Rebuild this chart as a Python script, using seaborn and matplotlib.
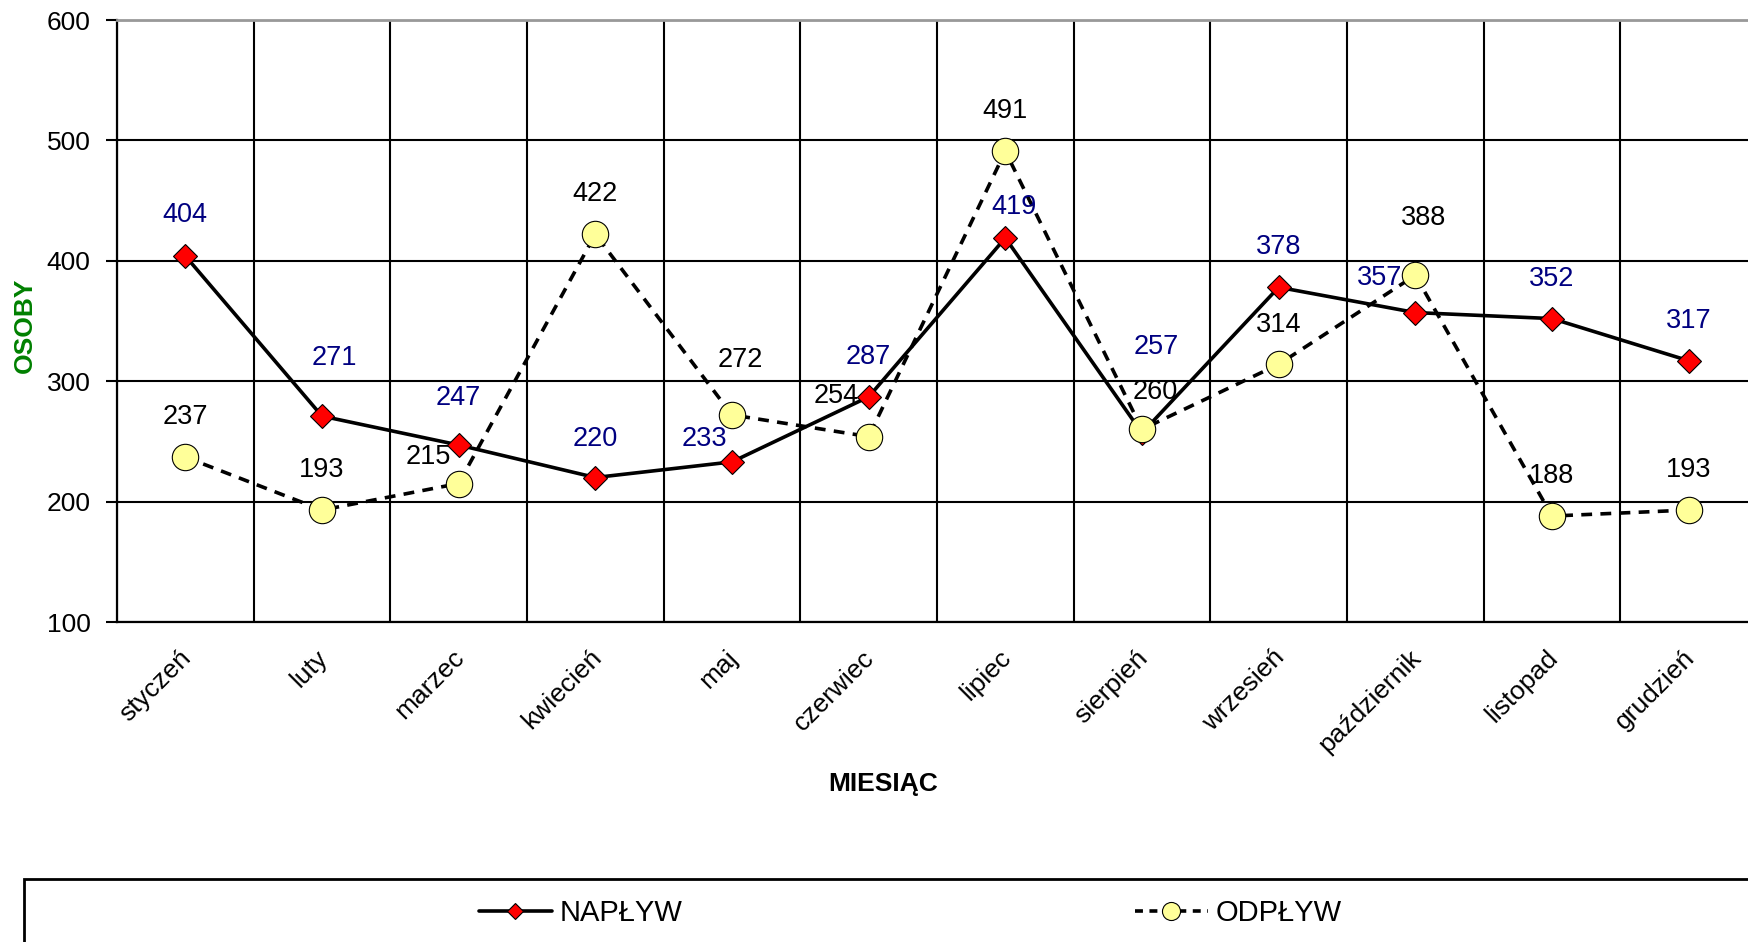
import numpy as np
import pandas as pd
import matplotlib
matplotlib.use("Agg")
import matplotlib.pyplot as plt
from matplotlib.lines import Line2D
from matplotlib.patches import Rectangle
import seaborn as sns

months = ["styczeń", "luty", "marzec", "kwiecień", "maj", "czerwiec", "lipiec",
          "sierpień", "wrzesień", "październik", "listopad", "grudzień"]
naplyw = [404, 271, 247, 220, 233, 287, 419, 257, 378, 357, 352, 317]
odplyw = [237, 193, 215, 422, 272, 254, 491, 260, 314, 388, 188, 193]
y_ticks = [100, 200, 300, 400, 500, 600]

# label offsets in pixels (dx, dy) -- styling only
naplyw_off = [(0, 41), (12, 58), (0, 47), (0, 39), (-28, 23), (0, 40),
              (9, 31), (14, 86), (0, 40), (-36, 35), (0, 40), (0, 40)]
odplyw_off = [(0, 40), (0, 40), (-30, 27), (0, 40), (8, 55), (-32, 41),
              (0, 40), (13, 37), (0, 39), (8, 57), (0, 40), (0, 40)]

sns.set_style("white")
plt.rcParams["font.family"] = ["Liberation Sans", "DejaVu Sans"]
plt.rcParams["text.color"] = "black"
plt.rcParams["xtick.color"] = "black"
plt.rcParams["ytick.color"] = "black"
plt.rcParams["axes.labelcolor"] = "black"
FS = 19
FS_LAB = 19.5
FS_LEG = 21

df = pd.DataFrame({"idx": np.arange(len(months)), "month": months,
                   "NAPŁYW": naplyw, "ODPŁYW": odplyw})

fig = plt.figure(figsize=(17.48, 9.42), dpi=100)
W, H = 1748, 942
ax = fig.add_axes([117 / W, 1 - 622 / H, (1757 - 117) / W, (622 - 20) / H])

sns.lineplot(data=df, x="idx", y="NAPŁYW", ax=ax, color="black", lw=2.6,
             marker="D", markersize=12.5, markerfacecolor="#FF0000",
             markeredgecolor="black", markeredgewidth=0.8, zorder=4)
sns.lineplot(data=df, x="idx", y="ODPŁYW", ax=ax, color="black", lw=2.6,
             linestyle=(0, (3, 2.3)), marker="o", markersize=19,
             markerfacecolor="#FFFF99", markeredgecolor="black",
             markeredgewidth=0.8, zorder=5)

ax.set_xlim(-0.5, len(months) - 0.5)
ax.set_ylim(y_ticks[0], y_ticks[-1])
ax.set_yticks(y_ticks)
ax.set_yticklabels([str(v) for v in y_ticks], fontsize=FS, color="black")
ax.set_xticks(np.arange(len(months)))
ax.set_xticklabels([""] * len(months))
ax.set_xticks(np.arange(len(months) + 1) - 0.5, minor=True)
ax.tick_params(axis="x", which="major", length=0)
ax.tick_params(axis="x", which="minor", length=8, width=1.5, color="black", direction="out")
ax.tick_params(axis="y", which="major", length=8, width=1.5, color="black",
               direction="out", pad=11, left=True)
ax.set_xlabel("")
ax.set_ylabel("")

ax.grid(False)
ax.grid(True, which="minor", axis="x", color="black", lw=1.5)
ax.grid(True, which="major", axis="y", color="black", lw=1.5)
ax.set_axisbelow(True)

for s in ["left", "bottom"]:
    ax.spines[s].set_color("black")
    ax.spines[s].set_linewidth(1.6)
ax.spines["top"].set_color("#999999")
ax.spines["top"].set_linewidth(2)
ax.spines["right"].set_visible(False)

# month labels
for i, m in enumerate(months):
    ax.annotate(m, xy=(i, 0), xycoords=ax.get_xaxis_transform(),
                xytext=(2, -32), textcoords="offset pixels", rotation=45,
                ha="right", va="center", rotation_mode="anchor", fontsize=FS,
                color="black", annotation_clip=False)

# data labels
for i, v in enumerate(naplyw):
    dx, dy = naplyw_off[i]
    ax.annotate(str(v), xy=(i, v), xytext=(dx, dy), textcoords="offset pixels",
                ha="center", va="center", color="#000080", fontsize=FS_LAB, zorder=6)
for i, v in enumerate(odplyw):
    dx, dy = odplyw_off[i]
    ax.annotate(str(v), xy=(i, v), xytext=(dx, dy), textcoords="offset pixels",
                ha="center", va="center", color="black", fontsize=FS_LAB, zorder=6)

fig.text(883 / W, 1 - 784 / H, "MIESIĄC", ha="center", va="center",
         fontsize=FS, fontweight="bold", color="black")
fig.text(25 / W, 1 - 325 / H, "OSOBY", ha="center", va="center", rotation=90,
         fontsize=FS, fontweight="bold", color="#008000")

# legend box
fig.patches.append(Rectangle((24 / W, -0.05), 1.1, (1 - 879 / H) + 0.05,
                             transform=fig.transFigure, fill=False,
                             edgecolor="black", lw=2, zorder=1))
h1 = Line2D([], [], color="black", lw=2.6, marker="D", markersize=8.5,
            markerfacecolor="#FF0000", markeredgecolor="black", markeredgewidth=0.8)
h2 = Line2D([], [], color="black", lw=2.6, linestyle=(0, (2.2, 1.8)), marker="o",
            markersize=13, markerfacecolor="#FFFF99", markeredgecolor="black",
            markeredgewidth=0.8)
fig.legend(handles=[h1], labels=["NAPŁYW"], loc="center left",
           bbox_to_anchor=(479 / W, 1 - 913 / H), frameon=False, borderpad=0,
           borderaxespad=0, handlelength=2.5, handletextpad=0.25, fontsize=FS_LEG,
           labelcolor="black")
fig.legend(handles=[h2], labels=["ODPŁYW"], loc="center left",
           bbox_to_anchor=(1135 / W, 1 - 913 / H), frameon=False, borderpad=0,
           borderaxespad=0, handlelength=2.5, handletextpad=0.25, fontsize=FS_LEG,
           labelcolor="black")

fig.savefig("out.png", dpi=100)
